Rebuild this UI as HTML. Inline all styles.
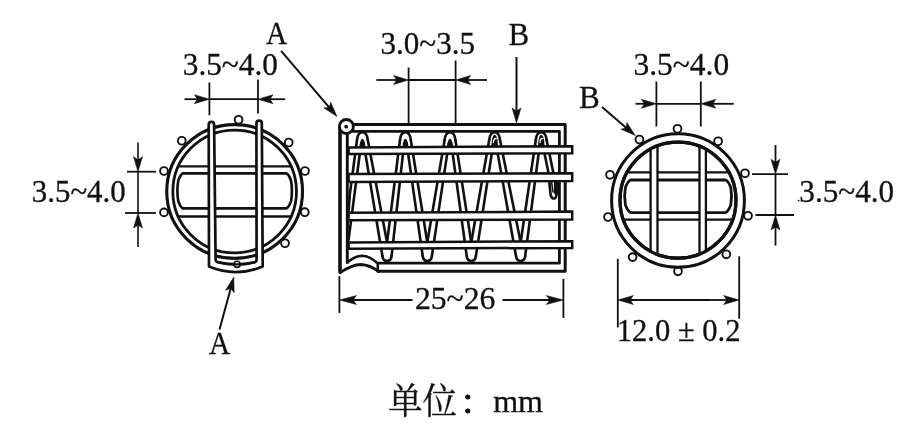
<!DOCTYPE html>
<html lang="zh"><head><meta charset="utf-8"><title>figure</title>
<style>
html,body{margin:0;padding:0;background:#fff}
body{width:924px;height:439px;overflow:hidden}
svg{display:block;will-change:transform}
svg text{font-family:"Liberation Serif","Noto Serif CJK SC",serif;fill:#111}
</style></head><body>
<svg width="924" height="439" viewBox="0 0 924 439">
<rect width="924" height="439" fill="#fff"/>
<circle cx="238.60" cy="119.80" r="3.9" stroke="#111" stroke-width="1.9" fill="#fff"/>
<circle cx="181.75" cy="140.75" r="3.9" stroke="#111" stroke-width="1.9" fill="#fff"/>
<circle cx="288.75" cy="142.50" r="3.9" stroke="#111" stroke-width="1.9" fill="#fff"/>
<circle cx="164.00" cy="171.00" r="3.9" stroke="#111" stroke-width="1.9" fill="#fff"/>
<circle cx="305.00" cy="171.00" r="3.9" stroke="#111" stroke-width="1.9" fill="#fff"/>
<circle cx="164.00" cy="212.40" r="3.9" stroke="#111" stroke-width="1.9" fill="#fff"/>
<circle cx="304.80" cy="212.20" r="3.9" stroke="#111" stroke-width="1.9" fill="#fff"/>
<circle cx="285.00" cy="243.25" r="3.9" stroke="#111" stroke-width="1.9" fill="#fff"/>
<ellipse cx="234.65" cy="191.50" rx="67.9" ry="66.9" stroke="#111" stroke-width="3.1" fill="#fff"/>
<ellipse cx="234.65" cy="191.50" rx="61.8" ry="61.4" stroke="#111" stroke-width="2.8" fill="#fff"/>
<clipPath id="cl"><ellipse cx="234.65" cy="191.5" rx="61.8" ry="61.4"/></clipPath>
<g clip-path="url(#cl)">
<line x1="150.00" y1="166.30" x2="320.00" y2="166.30" stroke="#111" stroke-width="2.3" />
<line x1="150.00" y1="216.50" x2="320.00" y2="216.50" stroke="#111" stroke-width="2.3" />
</g>
<path d="M183.00,173.4 L286.30,173.4 Q288.78,174.15 291.10,180.90 Q292.70,190.90 291.10,200.90 Q288.78,207.65 286.30,208.4 L183.00,208.4 Q180.53,207.65 178.20,200.90 Q176.60,190.90 178.20,180.90 Q180.53,174.15 183.00,173.4 Z" stroke="#111" stroke-width="2.7" fill="none" stroke-linejoin="round" stroke-linecap="round" />
<path d="M208.7,124.6 A2.7,2.7 0 0 1 214.1,124.6 L215.6,259.5 Q215.7,261.8 218,262.3 Q237,266.6 254.6,262.3 Q256.6,261.8 256.6,259.5 L256.4,123.3 A2.7,2.7 0 0 1 261.8,123.3 L262.7,266.6 Q235.5,277.6 209.0,266.6 Z" stroke="#111" stroke-width="2.7" fill="#fff" stroke-linejoin="round" stroke-linecap="round" />
<circle cx="237.10" cy="264.30" r="3.1" stroke="#111" stroke-width="1.6" fill="#fff"/>
<path d="M218,262.3 Q237,266.6 254.6,262.3" stroke="#111" stroke-width="2.3" fill="none" stroke-linejoin="round" stroke-linecap="round" />
<line x1="209.40" y1="82.50" x2="209.40" y2="115.20" stroke="#111" stroke-width="1.8" />
<line x1="258.00" y1="79.40" x2="258.00" y2="113.50" stroke="#111" stroke-width="1.8" />
<line x1="184.50" y1="99.20" x2="201.90" y2="99.20" stroke="#111" stroke-width="1.8" />
<path d="M209.40,99.20 L194.40,103.70 L197.40,99.20 L194.40,94.70 Z" fill="#111" stroke="#111" stroke-width="0.5" stroke-linejoin="round"/>
<line x1="285.20" y1="99.20" x2="265.50" y2="99.20" stroke="#111" stroke-width="1.8" />
<path d="M258.00,99.20 L273.00,94.70 L270.00,99.20 L273.00,103.70 Z" fill="#111" stroke="#111" stroke-width="0.5" stroke-linejoin="round"/>
<line x1="209.40" y1="99.20" x2="258.00" y2="99.20" stroke="#111" stroke-width="1.8" />
<text x="182.80" y="74.80" font-size="31.25" stroke="#111" stroke-width="0.3">3.5~4.0</text>
<line x1="127.00" y1="171.70" x2="156.00" y2="171.70" stroke="#111" stroke-width="1.8" />
<line x1="125.00" y1="213.00" x2="156.00" y2="213.00" stroke="#111" stroke-width="1.8" />
<line x1="138.00" y1="142.50" x2="138.00" y2="164.20" stroke="#111" stroke-width="1.6" />
<path d="M138.00,171.70 L133.50,156.70 L138.00,159.70 L142.50,156.70 Z" fill="#111" stroke="#111" stroke-width="0.5" stroke-linejoin="round"/>
<line x1="138.00" y1="247.00" x2="138.00" y2="220.50" stroke="#111" stroke-width="1.6" />
<path d="M138.00,213.00 L142.50,228.00 L138.00,225.00 L133.50,228.00 Z" fill="#111" stroke="#111" stroke-width="0.5" stroke-linejoin="round"/>
<line x1="138.00" y1="171.70" x2="138.00" y2="213.00" stroke="#111" stroke-width="1.6" />
<text x="31.82" y="202.00" font-size="30.87" stroke="#111" stroke-width="0.3">3.5~4.0</text>
<text transform="translate(266.01,43.80) scale(1,1.07)" x="0" y="0" font-size="29.40" stroke="#111" stroke-width="0.3">A</text>
<line x1="281.10" y1="50.80" x2="332.14" y2="110.79" stroke="#111" stroke-width="2.0" />
<path d="M337.00,116.50 L323.85,107.99 L329.22,107.36 L330.71,102.16 Z" fill="#111" stroke="#111" stroke-width="0.5" stroke-linejoin="round"/>
<text transform="translate(209.01,353.80) scale(1,1.08)" x="0" y="0" font-size="29.40" stroke="#111" stroke-width="0.3">A</text>
<line x1="219.50" y1="329.50" x2="231.83" y2="284.24" stroke="#111" stroke-width="2.0" />
<path d="M233.80,277.00 L234.20,292.66 L230.65,288.58 L225.52,290.29 Z" fill="#111" stroke="#111" stroke-width="0.5" stroke-linejoin="round"/>
<circle cx="677.50" cy="128.80" r="3.9" stroke="#111" stroke-width="1.9" fill="#fff"/>
<circle cx="639.40" cy="139.50" r="3.9" stroke="#111" stroke-width="1.9" fill="#fff"/>
<circle cx="718.10" cy="141.30" r="3.9" stroke="#111" stroke-width="1.9" fill="#fff"/>
<circle cx="610.00" cy="174.80" r="3.9" stroke="#111" stroke-width="1.9" fill="#fff"/>
<circle cx="745.00" cy="173.30" r="3.9" stroke="#111" stroke-width="1.9" fill="#fff"/>
<circle cx="608.00" cy="217.00" r="3.9" stroke="#111" stroke-width="1.9" fill="#fff"/>
<circle cx="748.00" cy="215.80" r="3.9" stroke="#111" stroke-width="1.9" fill="#fff"/>
<circle cx="632.60" cy="257.10" r="3.9" stroke="#111" stroke-width="1.9" fill="#fff"/>
<circle cx="726.30" cy="254.30" r="3.9" stroke="#111" stroke-width="1.9" fill="#fff"/>
<circle cx="678.00" cy="271.30" r="3.9" stroke="#111" stroke-width="1.9" fill="#fff"/>
<ellipse cx="678.00" cy="200.50" rx="66.4" ry="66.8" stroke="#111" stroke-width="3.0" fill="#fff"/>
<circle cx="678.00" cy="200.20" r="58.0" stroke="#111" stroke-width="3.2" fill="#fff"/>
<clipPath id="cr"><circle cx="678" cy="200.2" r="58.0"/></clipPath>
<g clip-path="url(#cr)">
<line x1="600.00" y1="172.40" x2="760.00" y2="172.40" stroke="#111" stroke-width="2.3" />
<line x1="600.00" y1="219.60" x2="760.00" y2="219.60" stroke="#111" stroke-width="2.3" />
</g>
<path d="M630.70,180 L725.50,180 Q728.20,180.75 730.80,187.50 Q732.40,196.30 730.80,205.10 Q728.20,211.85 725.50,212.6 L630.70,212.6 Q628.00,211.85 625.40,205.10 Q623.80,196.30 625.40,187.50 Q628.00,180.75 630.70,180 Z" stroke="#111" stroke-width="2.8" fill="none" stroke-linejoin="round" stroke-linecap="round" />
<g clip-path="url(#cr)">
<rect x="650.6" y="120" width="6.90" height="160" fill="#fff" stroke="#111" stroke-width="2.3"/>
<rect x="699.5" y="120" width="6.40" height="160" fill="#fff" stroke="#111" stroke-width="2.3"/>
</g>
<circle cx="678.00" cy="200.20" r="58.0" stroke="#111" stroke-width="3.2" fill="none"/>
<line x1="656.40" y1="81.50" x2="656.40" y2="126.50" stroke="#111" stroke-width="1.8" />
<line x1="700.80" y1="81.50" x2="700.80" y2="126.50" stroke="#111" stroke-width="1.8" />
<line x1="635.50" y1="103.80" x2="648.90" y2="103.80" stroke="#111" stroke-width="1.8" />
<path d="M656.40,103.80 L641.40,108.30 L644.40,103.80 L641.40,99.30 Z" fill="#111" stroke="#111" stroke-width="0.5" stroke-linejoin="round"/>
<line x1="733.80" y1="103.80" x2="708.30" y2="103.80" stroke="#111" stroke-width="1.8" />
<path d="M700.80,103.80 L715.80,99.30 L712.80,103.80 L715.80,108.30 Z" fill="#111" stroke="#111" stroke-width="0.5" stroke-linejoin="round"/>
<line x1="656.40" y1="103.80" x2="700.80" y2="103.80" stroke="#111" stroke-width="1.8" />
<text x="633.49" y="74.50" font-size="31.48" stroke="#111" stroke-width="0.3">3.5~4.0</text>
<text x="579.10" y="108.00" font-size="31.12" stroke="#111" stroke-width="0.3">B</text>
<line x1="602.00" y1="107.00" x2="629.61" y2="130.71" stroke="#111" stroke-width="2.0" />
<path d="M635.30,135.60 L620.99,129.24 L626.20,127.78 L626.85,122.41 Z" fill="#111" stroke="#111" stroke-width="0.5" stroke-linejoin="round"/>
<line x1="752.00" y1="174.20" x2="788.00" y2="174.20" stroke="#111" stroke-width="1.8" />
<line x1="755.50" y1="215.00" x2="794.00" y2="215.00" stroke="#111" stroke-width="1.8" />
<line x1="775.50" y1="145.00" x2="775.50" y2="166.70" stroke="#111" stroke-width="1.8" />
<path d="M775.50,174.20 L771.00,159.20 L775.50,162.20 L780.00,159.20 Z" fill="#111" stroke="#111" stroke-width="0.5" stroke-linejoin="round"/>
<line x1="775.50" y1="245.50" x2="775.50" y2="222.50" stroke="#111" stroke-width="1.8" />
<path d="M775.50,215.00 L780.00,230.00 L775.50,227.00 L771.00,230.00 Z" fill="#111" stroke="#111" stroke-width="0.5" stroke-linejoin="round"/>
<line x1="775.50" y1="174.20" x2="775.50" y2="215.00" stroke="#111" stroke-width="1.8" />
<text x="799.30" y="201.80" font-size="31.21" stroke="#111" stroke-width="0.3">3.5~4.0</text>
<circle cx="798.60" cy="200.60" r="0.9" stroke="#111" stroke-width="0" fill="#111"/>
<line x1="617.80" y1="258.80" x2="617.80" y2="327.50" stroke="#111" stroke-width="1.8" />
<line x1="739.20" y1="256.30" x2="739.20" y2="318.80" stroke="#111" stroke-width="1.8" />
<line x1="660.00" y1="300.00" x2="625.55" y2="300.00" stroke="#111" stroke-width="1.8" />
<path d="M617.80,300.00 L633.30,295.50 L630.20,300.00 L633.30,304.50 Z" fill="#111" stroke="#111" stroke-width="0.5" stroke-linejoin="round"/>
<line x1="700.00" y1="300.00" x2="731.45" y2="300.00" stroke="#111" stroke-width="1.8" />
<path d="M739.20,300.00 L723.70,304.50 L726.80,300.00 L723.70,295.50 Z" fill="#111" stroke="#111" stroke-width="0.5" stroke-linejoin="round"/>
<line x1="650.00" y1="300.00" x2="710.00" y2="300.00" stroke="#111" stroke-width="1.8" />
<text x="616.81" y="341.30" font-size="30.55" stroke="#111" stroke-width="0.3">12.0 ± 0.2</text>
<path d="M354,124.4 L565.2,124.4 L565.2,271.2 L378,271.2" stroke="#111" stroke-width="3.0" fill="none" stroke-linejoin="round" stroke-linecap="round" />
<path d="M353,131.4 L559.4,131.4 L559.4,263.2 L378,263.2" stroke="#111" stroke-width="2.8" fill="none" stroke-linejoin="round" stroke-linecap="round" />
<path d="M340,271.5 L340,127" stroke="#111" stroke-width="3.6" fill="none" stroke-linejoin="round" stroke-linecap="round" />
<path d="M347.3,134 L347.3,262.5" stroke="#111" stroke-width="2.9" fill="none" stroke-linejoin="round" stroke-linecap="round" />
<circle cx="346.40" cy="126.50" r="7.0" stroke="#111" stroke-width="2.9" fill="#fff"/>
<circle cx="346.20" cy="126.70" r="1.9" stroke="#111" stroke-width="0" fill="#111"/>
<path d="M347.3,262.5 Q355,256 362,255.8 Q370,256 377.8,263.6 L377.8,271.2" stroke="#111" stroke-width="2.6" fill="none" stroke-linejoin="round" stroke-linecap="round" />
<path d="M340,272.8 Q352,264.5 361,264.5 Q370,265 378.5,271.5" stroke="#111" stroke-width="2.8" fill="none" stroke-linejoin="round" stroke-linecap="round" />
<path d="M367.80,140 L386.70,240.5" stroke="#111" stroke-width="2.6" fill="none" stroke-linejoin="round" stroke-linecap="round" />
<path d="M363.60,143 L382.40,256" stroke="#111" stroke-width="2.6" fill="none" stroke-linejoin="round" stroke-linecap="round" />
<path d="M357.00,140 C357.80,129.5 367.00,129.5 367.80,140" stroke="#111" stroke-width="2.6" fill="none" stroke-linejoin="round" stroke-linecap="round" />
<path d="M359.80,147 Q360.32,137.5 363.00,139.0 Q365.00,140.5 365.00,147 Z" fill="#111"/>
<path d="M410.80,140 L427.00,240.5" stroke="#111" stroke-width="2.6" fill="none" stroke-linejoin="round" stroke-linecap="round" />
<path d="M406.60,143 L422.70,256" stroke="#111" stroke-width="2.6" fill="none" stroke-linejoin="round" stroke-linecap="round" />
<path d="M400.00,140 L387.30,240.5" stroke="#111" stroke-width="2.6" fill="none" stroke-linejoin="round" stroke-linecap="round" />
<path d="M404.20,143 L391.60,256" stroke="#111" stroke-width="2.6" fill="none" stroke-linejoin="round" stroke-linecap="round" />
<path d="M400.00,140 C400.80,129.5 410.00,129.5 410.80,140" stroke="#111" stroke-width="2.6" fill="none" stroke-linejoin="round" stroke-linecap="round" />
<path d="M402.80,147 Q403.32,137.5 406.00,139.0 Q408.00,140.5 408.00,147 Z" fill="#111"/>
<path d="M455.40,140 L471.00,240.5" stroke="#111" stroke-width="2.6" fill="none" stroke-linejoin="round" stroke-linecap="round" />
<path d="M451.20,143 L466.70,256" stroke="#111" stroke-width="2.6" fill="none" stroke-linejoin="round" stroke-linecap="round" />
<path d="M444.60,140 L427.60,240.5" stroke="#111" stroke-width="2.6" fill="none" stroke-linejoin="round" stroke-linecap="round" />
<path d="M448.80,143 L431.90,256" stroke="#111" stroke-width="2.6" fill="none" stroke-linejoin="round" stroke-linecap="round" />
<path d="M444.60,140 C445.40,129.5 454.60,129.5 455.40,140" stroke="#111" stroke-width="2.6" fill="none" stroke-linejoin="round" stroke-linecap="round" />
<path d="M447.40,147 Q447.92,137.5 450.60,139.0 Q452.60,140.5 452.60,147 Z" fill="#111"/>
<path d="M500.00,140 L520.30,240.5" stroke="#111" stroke-width="2.6" fill="none" stroke-linejoin="round" stroke-linecap="round" />
<path d="M495.80,143 L516.00,256" stroke="#111" stroke-width="2.6" fill="none" stroke-linejoin="round" stroke-linecap="round" />
<path d="M489.20,140 L471.60,240.5" stroke="#111" stroke-width="2.6" fill="none" stroke-linejoin="round" stroke-linecap="round" />
<path d="M493.40,143 L475.90,256" stroke="#111" stroke-width="2.6" fill="none" stroke-linejoin="round" stroke-linecap="round" />
<path d="M489.20,140 C490.00,129.5 499.20,129.5 500.00,140" stroke="#111" stroke-width="2.6" fill="none" stroke-linejoin="round" stroke-linecap="round" />
<path d="M491.30,147 Q491.96,133.5 495.20,135.0 Q497.90,136.5 497.90,147 Z" fill="#111"/>
<path d="M493.40,142.5 Q493.80,137.8 496.20,138.6" stroke="#111" stroke-width="1.3" fill="none" stroke-linejoin="round" stroke-linecap="round" style="stroke:#fff"/>
<path d="M535.80,140 L520.90,240.5" stroke="#111" stroke-width="2.6" fill="none" stroke-linejoin="round" stroke-linecap="round" />
<path d="M540.00,143 L525.20,256" stroke="#111" stroke-width="2.6" fill="none" stroke-linejoin="round" stroke-linecap="round" />
<path d="M535.80,140 C536.60,129.5 545.80,129.5 546.60,140" stroke="#111" stroke-width="2.6" fill="none" stroke-linejoin="round" stroke-linecap="round" />
<path d="M537.90,147 Q538.56,133.5 541.80,135.0 Q544.50,136.5 544.50,147 Z" fill="#111"/>
<path d="M540.00,142.5 Q540.40,137.8 542.80,138.6" stroke="#111" stroke-width="1.3" fill="none" stroke-linejoin="round" stroke-linecap="round" style="stroke:#fff"/>
<path d="M357.00,140 L348,208" stroke="#111" stroke-width="2.6" fill="none" stroke-linejoin="round" stroke-linecap="round" />
<path d="M361.20,143 L348.5,240" stroke="#111" stroke-width="2.6" fill="none" stroke-linejoin="round" stroke-linecap="round" />
<path d="M347.3,196 L351,196 L347.3,245 Z" fill="#111"/>
<path d="M382.40,256 Q383.00,261 387.00,261 Q391.00,261 391.60,256" stroke="#111" stroke-width="2.6" fill="none" stroke-linejoin="round" stroke-linecap="round" />
<path d="M422.70,256 Q423.30,261 427.30,261 Q431.30,261 431.90,256" stroke="#111" stroke-width="2.6" fill="none" stroke-linejoin="round" stroke-linecap="round" />
<path d="M466.70,256 Q467.30,261 471.30,261 Q475.30,261 475.90,256" stroke="#111" stroke-width="2.6" fill="none" stroke-linejoin="round" stroke-linecap="round" />
<path d="M516.00,256 Q516.60,261 520.60,261 Q524.60,261 525.20,256" stroke="#111" stroke-width="2.6" fill="none" stroke-linejoin="round" stroke-linecap="round" />
<path d="M546.60,140 L553.2,172 " stroke="#111" stroke-width="2.6" fill="none" stroke-linejoin="round" stroke-linecap="round" />
<path d="M542.40,143 L548.3,172 L550.6,195 Q552,199.6 555,198.2 Q557.6,196.6 557.3,182" stroke="#111" stroke-width="2.6" fill="none" stroke-linejoin="round" stroke-linecap="round" />
<path d="M551.6,182 L553,192" stroke="#111" stroke-width="1.6" fill="none" stroke-linejoin="round" stroke-linecap="round" />
<path d="M554.6,182 L557.3,182 L557.3,193 Q556,196 554.6,193 Z" stroke="#111" stroke-width="1.2" fill="#111" stroke-linejoin="round" stroke-linecap="round" />
<path d="M348.6,147.5 L572.2,146.2 L572.2,153.3 L348.6,153.9 Z" fill="#fff" stroke="#111" stroke-width="2.5" stroke-linejoin="miter"/>
<path d="M348.6,173.9 L572.2,173.2 L572.2,181.1 L348.6,181.9 Z" fill="#fff" stroke="#111" stroke-width="2.5" stroke-linejoin="miter"/>
<path d="M348.6,212.8 L572.2,211.6 L572.2,219.4 L348.6,220.3 Z" fill="#fff" stroke="#111" stroke-width="2.5" stroke-linejoin="miter"/>
<path d="M348.6,242.4 L572.2,241.3 L572.2,247.9 L348.6,248.7 Z" fill="#fff" stroke="#111" stroke-width="2.5" stroke-linejoin="miter"/>
<line x1="408.60" y1="67.50" x2="408.60" y2="123.00" stroke="#111" stroke-width="1.8" />
<line x1="455.60" y1="60.50" x2="455.60" y2="123.00" stroke="#111" stroke-width="1.8" />
<line x1="376.30" y1="80.00" x2="401.10" y2="80.00" stroke="#111" stroke-width="1.8" />
<path d="M408.60,80.00 L393.60,84.50 L396.60,80.00 L393.60,75.50 Z" fill="#111" stroke="#111" stroke-width="0.5" stroke-linejoin="round"/>
<line x1="487.00" y1="80.00" x2="463.10" y2="80.00" stroke="#111" stroke-width="1.8" />
<path d="M455.60,80.00 L470.60,75.50 L467.60,80.00 L470.60,84.50 Z" fill="#111" stroke="#111" stroke-width="0.5" stroke-linejoin="round"/>
<line x1="408.60" y1="80.00" x2="455.60" y2="80.00" stroke="#111" stroke-width="1.8" />
<text x="380.51" y="54.00" font-size="31.09" stroke="#111" stroke-width="0.3">3.0~3.5</text>
<text x="508.40" y="45.00" font-size="30.95" stroke="#111" stroke-width="0.3">B</text>
<line x1="516.50" y1="57.00" x2="516.50" y2="115.50" stroke="#111" stroke-width="2.0" />
<path d="M516.50,123.00 L512.00,108.00 L516.50,111.00 L521.00,108.00 Z" fill="#111" stroke="#111" stroke-width="0.5" stroke-linejoin="round"/>
<line x1="339.40" y1="276.00" x2="339.40" y2="313.00" stroke="#111" stroke-width="1.8" />
<line x1="563.40" y1="278.80" x2="563.40" y2="318.00" stroke="#111" stroke-width="1.8" />
<line x1="412.50" y1="300.00" x2="347.90" y2="300.00" stroke="#111" stroke-width="1.8" />
<path d="M339.40,300.00 L356.40,295.50 L353.00,300.00 L356.40,304.50 Z" fill="#111" stroke="#111" stroke-width="0.5" stroke-linejoin="round"/>
<line x1="502.50" y1="300.00" x2="554.90" y2="300.00" stroke="#111" stroke-width="1.8" />
<path d="M563.40,300.00 L546.40,304.50 L549.80,300.00 L546.40,295.50 Z" fill="#111" stroke="#111" stroke-width="0.5" stroke-linejoin="round"/>
<text x="414.90" y="309.30" font-size="31.71" stroke="#111" stroke-width="0.3">25~26</text>
<text transform="translate(388,414) scale(1,1.05)" x="0" y="0" font-size="34.5" stroke="#111" stroke-width="0.3">单位</text>
<text transform="translate(459.8,414) scale(1,1.0)" x="0" y="0" font-size="34.5" stroke="#111" stroke-width="0.9">：</text>
<text x="493.13" y="412.00" font-size="32.08" stroke="#111" stroke-width="0.3">mm</text>
</svg>
</body></html>
